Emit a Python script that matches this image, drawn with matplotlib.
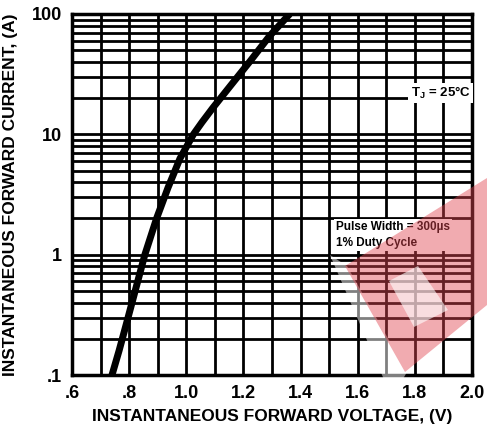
import numpy as np
import matplotlib
matplotlib.use("Agg")
import matplotlib.pyplot as plt
from matplotlib.patches import Polygon

# forward characteristic
voltage = [0.740, 0.765, 0.791, 0.823, 0.855, 0.896, 0.936, 0.978, 1.025,
           1.055, 1.093, 1.155, 1.225, 1.290, 1.362]
current = [0.1, 0.16, 0.27, 0.52, 1.0, 2.0, 3.6, 6.3, 10,
           12.6, 16.6, 25.4, 41, 65, 100]

x_ticks = [0.6, 0.8, 1.0, 1.2, 1.4, 1.6, 1.8, 2.0]
x_tick_labels = [".6", ".8", "1.0", "1.2", "1.4", "1.6", "1.8", "2.0"]
y_ticks = [0.1, 1, 10, 100]
y_tick_labels = [".1", "1", "10", "100"]

plt.rcParams["font.family"] = ["Liberation Sans", "DejaVu Sans"]
plt.rcParams["font.weight"] = "bold"

W, H = 487, 428
fig = plt.figure(figsize=(W / 100, H / 100), dpi=100)
ax = fig.add_axes([72 / W, 1 - 375 / H, 400 / W, 361 / H])
ax.set_yscale("log")
ax.set_xlim(0.6, 2.0)
ax.set_ylim(0.1, 100)

# grid: every 0.1 V, every 1..9 per decade
for v in np.arange(0.7, 2.0, 0.1):
    ax.axvline(v, color="black", lw=2.0, zorder=1)
for d in [0.1, 1, 10]:
    for m in range(1, 10):
        if d * m > 0.1:
            ax.axhline(d * m, color="black", lw=2.0, zorder=1)

ax.plot(voltage, current, color="black", lw=5, solid_capstyle="butt",
        solid_joinstyle="round", zorder=3)

ax.set_xticks(x_ticks)
ax.set_xticklabels(x_tick_labels)
ax.set_yticks(y_ticks)
ax.set_yticklabels(y_tick_labels)
ax.yaxis.set_minor_locator(matplotlib.ticker.NullLocator())
ax.tick_params(length=0, labelsize=13, pad=7)
for s in ax.spines.values():
    s.set_linewidth(2.5)

ax.set_xlabel("INSTANTANEOUS FORWARD VOLTAGE, (V)", fontsize=12.5, fontweight="bold", labelpad=5)
ax.set_ylabel("INSTANTANEOUS FORWARD CURRENT, (A)", fontsize=12.5, fontweight="bold", labelpad=10)

ax.text(1.89, 22, r"T$_\mathregular{J}$ = 25°C", fontsize=9.5, fontweight="bold",
        ha="center", va="center", zorder=4,
        bbox=dict(facecolor="white", edgecolor="none", pad=1.5))
ax.text(1.525, 1.45, "Pulse Width = 300µs\n1% Duty Cycle", fontsize=8.5,
        fontweight="bold", ha="left", va="center", linespacing=1.4, zorder=4,
        bbox=dict(facecolor="white", edgecolor="none", pad=1.5))

# faint red watermark in the lower right
def px(pts):
    return [(x / W, 1 - y / H) for x, y in pts]

fig.patches.append(Polygon(px([(330, 255), (347, 266), (407, 372), (392, 398)]),
                           closed=True, transform=fig.transFigure,
                           facecolor="white", alpha=0.5, edgecolor="none", zorder=5))
fig.patches.append(Polygon(px([(345, 266), (487, 178), (487, 305), (405, 372)]),
                           closed=True, transform=fig.transFigure,
                           facecolor="#e04550", alpha=0.45, edgecolor="none", zorder=5))
fig.patches.append(Polygon(px([(389, 281), (418, 266), (448, 310), (414, 327)]),
                           closed=True, transform=fig.transFigure,
                           facecolor="white", alpha=0.6, edgecolor="none", zorder=6))

fig.savefig("out.png", dpi=100)
